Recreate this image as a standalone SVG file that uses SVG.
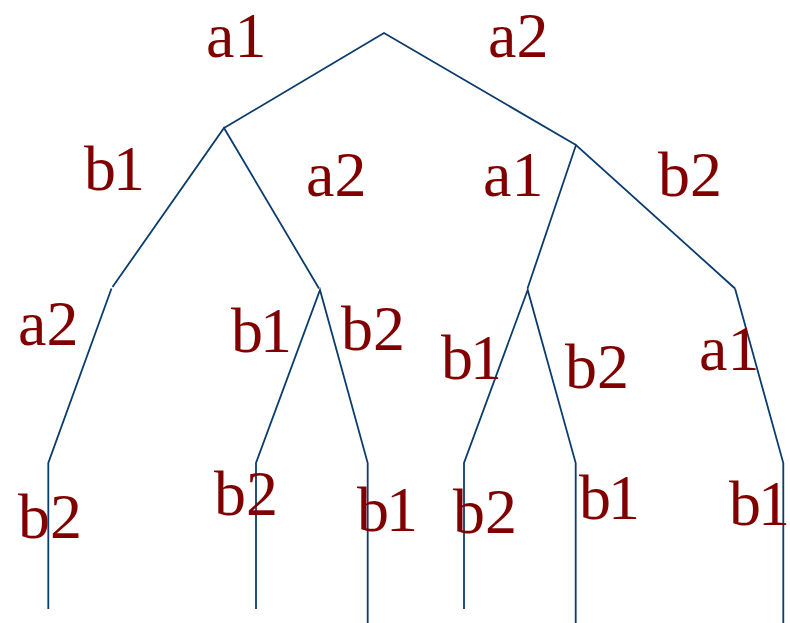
<svg xmlns="http://www.w3.org/2000/svg" width="790" height="623" viewBox="0 0 790 623">
<style>
.e{fill:none;stroke:#0b3c6e;stroke-width:1.8;stroke-linejoin:miter}
.t{font-family:"Liberation Serif","Times New Roman",serif;font-size:64px;fill:#800000}
.n{letter-spacing:-3px}
</style>
<rect width="790" height="623" fill="#ffffff"/>
<g id="connectors">
<polyline class="e" points="224,128 384,33 576,145"/>
<polyline class="e" points="112.5,287 224,128 319,288.5"/>
<polyline class="e" points="527.5,288.5 576,145 735,288.5"/>
<polyline class="e" points="111.5,288.5 48.3,463 48.3,609"/>
<polyline class="e" points="256,609 256,463 320,290 367.7,463 367.7,623"/>
<polyline class="e" points="464,609 464,463 527.7,290 575.7,463 575.7,623"/>
<polyline class="e" points="735,288.5 783.3,463 783.3,623"/>
</g>
<g id="labels">
<g id="root"><text class="t" x="206" y="57">a1</text><text class="t" x="488" y="57">a2</text></g>
<g id="nodeL"><text class="t n" x="84" y="190">b1</text><text class="t" x="306" y="196">a2</text></g>
<g id="nodeR"><text class="t" x="483" y="196">a1</text><text class="t" x="658" y="196">b2</text></g>
<g id="nodeLL"><text class="t" x="18" y="345">a2</text></g>
<g id="nodeLR"><text class="t n" x="231" y="352">b1</text><text class="t" x="341" y="350">b2</text></g>
<g id="nodeRL"><text class="t n" x="441" y="379">b1</text><text class="t" x="565" y="388">b2</text></g>
<g id="nodeRR"><text class="t" x="699" y="370">a1</text></g>
<g id="leaves">
<text class="t" x="18" y="538">b2</text>
<text class="t" x="214" y="515">b2</text>
<text class="t n" x="357" y="531">b1</text>
<text class="t" x="453" y="533">b2</text>
<text class="t n" x="579" y="519">b1</text>
<text class="t n" x="729" y="525">b1</text>
</g>
</g>
</svg>
